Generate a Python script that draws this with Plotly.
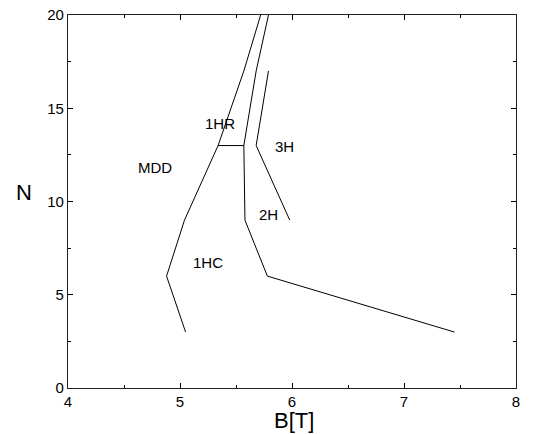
import plotly.graph_objects as go

# Phase boundary lines (B in T, N)
line1_B = [5.05, 4.88, 5.04, 5.34, 5.57, 5.72]
line1_N = [3, 6, 9, 13, 17, 20]

line2_B = [7.45, 5.78, 5.58, 5.57, 5.68, 5.79]
line2_N = [3, 6, 9, 13, 17, 20]

line3_B = [5.98, 5.68, 5.79]
line3_N = [9, 13, 17]

line4_B = [5.34, 5.57]
line4_N = [13, 13]

labels = ["MDD", "1HR", "3H", "2H", "1HC"]
label_B = [4.78, 5.36, 5.93, 5.79, 5.25]
label_N = [11.8, 14.2, 12.95, 9.28, 6.73]

FONT = "Liberation Sans, Arial, sans-serif"

fig = go.Figure()
for xs, ys in [(line1_B, line1_N), (line2_B, line2_N), (line3_B, line3_N), (line4_B, line4_N)]:
    fig.add_trace(go.Scatter(x=xs, y=ys, mode="lines",
                             line=dict(color="black", width=1), showlegend=False,
                             hoverinfo="skip"))

for t, xb, yn in zip(labels, label_B, label_N):
    fig.add_annotation(x=xb, y=yn, text=t, showarrow=False,
                       font=dict(family=FONT, size=15, color="black"))

fig.add_annotation(xref="paper", yref="paper", x=-0.099, y=0.525, text="N",
                   showarrow=False, xanchor="center", yanchor="middle",
                   font=dict(family=FONT, size=22, color="black"))
fig.add_annotation(xref="paper", yref="paper", x=0.504, y=-0.086, text="B[T]",
                   showarrow=False, xanchor="center", yanchor="middle",
                   font=dict(family=FONT, size=22, color="black"))

axis_common = dict(showgrid=False, zeroline=False, showline=True, linecolor="#222",
                   linewidth=1.3, mirror="ticks", ticks="inside", ticklen=5,
                   tickcolor="black", ticklabeloverflow="allow", automargin=False,
                   tickfont=dict(family=FONT, size=15, color="black"))

fig.update_xaxes(range=[4, 8], dtick=1, tick0=4,
                 minor=dict(ticks="inside", dtick=0.5, ticklen=3, tickcolor="black"),
                 **axis_common)
fig.update_yaxes(range=[0, 20], dtick=5, tick0=0,
                 minor=dict(ticks="inside", dtick=2.5, ticklen=3, tickcolor="black"),
                 **axis_common)

fig.update_layout(width=526, height=426, margin=dict(l=60, r=18, t=7, b=46),
                  plot_bgcolor="white", paper_bgcolor="white",
                  font=dict(family=FONT, color="black"))

fig.write_html("out.html")
